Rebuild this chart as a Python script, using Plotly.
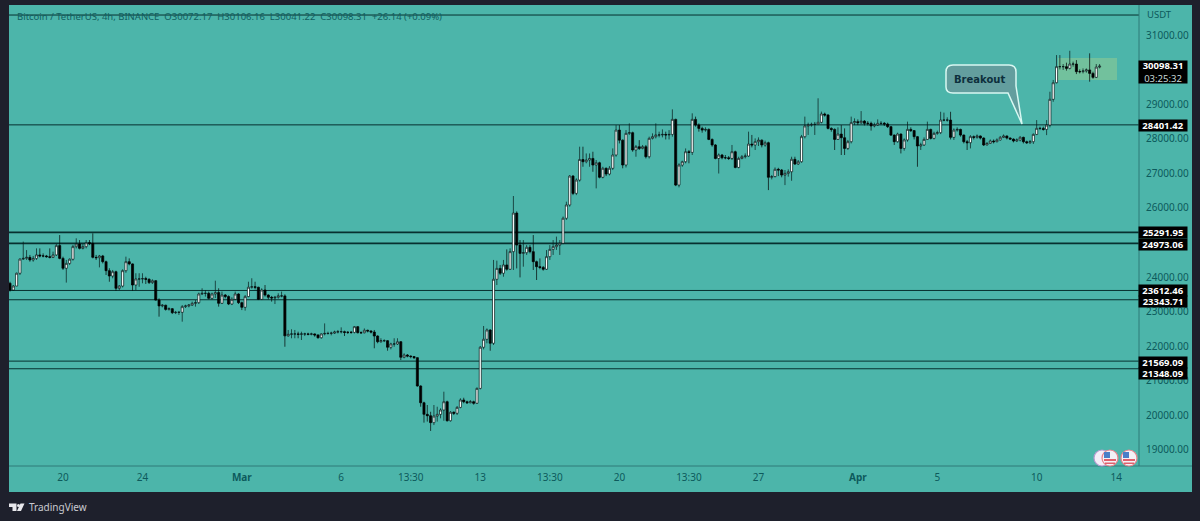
import pandas as pd
import plotly.graph_objects as go

first_open = 23820
closes = [
23625,23740,24110,24520,24540,24570,24495,24540,24640,24610,
24610,24590,24570,24640,24910,24540,24255,24395,24515,24880,
24955,24830,24880,24995,24975,24570,24560,24610,24445,24185,
24030,24155,23675,23740,24185,24445,24380,23770,23945,23945,
23955,23935,23840,23895,23335,23165,23185,23065,23085,22970,
22980,22980,23145,23165,23190,23240,23260,23510,23530,23530,
23385,23510,23550,23240,23480,23435,23220,23355,23510,23260,
23125,23435,23705,23720,23705,23355,23625,23480,23415,23395,
23415,23455,23455,22300,22345,22355,22355,22345,22355,22355,
22345,22355,22325,22245,22355,22370,22370,22380,22410,22420,
22420,22400,22400,22400,22565,22390,22390,22460,22440,22410,
22295,22130,22160,22160,21970,22065,22065,22130,21680,21745,
21715,21700,21670,20850,20365,20030,19990,19790,19980,20030,
20155,20395,19845,20090,20060,20230,20445,20395,20365,20395,
20350,20780,21970,22200,22470,22085,23935,24250,24110,24350,
24225,24735,25850,24925,24685,24705,24860,24735,24445,24300,
24280,24225,24590,24800,24880,24925,24975,25700,26085,26920,
26420,26805,27400,27335,27385,27430,27240,27305,26885,27145,
26980,27145,27530,28250,27960,27240,28155,28175,27675,27770,
27720,27770,27480,28010,28060,28110,28110,28125,28110,28125,
28560,26660,27240,27335,27625,27605,28560,28395,28300,28250,
28270,27980,27820,27430,27530,27450,27450,27430,27625,27170,
27430,27480,27500,27845,27820,27915,27960,27820,27885,26885,
26905,27115,27095,26950,27000,27045,27405,27270,27335,28060,
28370,28395,28415,28415,28475,28715,28685,28300,28270,27980,
28135,28030,27720,27915,28465,28495,28465,28510,28445,28445,
28370,28395,28445,28445,28425,28350,28105,27915,28135,27720,
27965,28270,28235,28060,27790,27820,27980,28270,28010,28155,
28175,28540,28540,28540,28040,28250,28270,28105,27915,27885,
28060,28040,28080,28020,27820,27865,27935,27915,27965,28040,
28080,28020,27990,27935,27965,28040,27915,27885,27915,28125,
28300,28300,28270,28395,29140,29620,30085,30085,30085,30035,
30160,30160,29940,29940,29960,29990,29890,29775,30072,30098,
]
highs = [
23865,23770,24130,24540,25025,24780,24640,24610,24830,24830,
24685,24640,24830,24735,24955,25215,24590,24495,24540,24930,
25120,25070,24955,25070,25070,25265,24640,24640,24640,24475,
24255,24205,24185,23770,24225,24590,24540,24395,24110,24110,
24110,24010,23965,23935,23915,23385,23220,23200,23125,23105,
23020,23020,23190,23200,23220,23290,23335,23550,23675,23625,
23580,23550,23895,23675,23580,23510,23470,23415,23580,23530,
23290,23480,23865,23965,23865,23720,23675,23770,23500,23455,
23455,23530,23580,23500,22470,22490,22470,22420,22420,22390,
22390,22390,22370,22345,22370,22660,22420,22420,22450,22470,
22545,22450,22440,22440,22585,22585,22430,22515,22480,22460,
22470,22315,22230,22200,22180,22100,22230,22230,22150,21795,
21775,21735,21715,21680,20870,20395,20300,20105,20300,20250,
20205,20685,20425,20125,20115,20270,20495,20510,20425,20445,
20425,20810,22005,22585,22515,22490,24495,24475,24350,24495,
24800,24830,26344,25900,25070,25070,24925,24925,25215,24475,
24540,24320,24780,24925,25070,25170,25070,25750,26180,26950,
26950,26855,27770,27770,27575,27575,27625,27385,27335,27190,
27170,27210,27720,28395,28395,27980,28250,28445,28205,27820,
27960,27820,27820,28060,28155,28445,28205,28270,28205,28250,
28850,28580,27290,27365,27720,27675,28735,28640,28445,28350,
28330,28300,28010,27845,27575,27560,27530,27500,27820,27655,
27480,27530,27575,28205,28110,28010,28040,27980,27945,27915,
26950,27170,27160,27125,27095,27115,27480,27480,27385,28110,
28640,28465,28465,28485,29170,28785,28755,28715,28330,28300,
28330,28395,28300,27965,28640,28590,28560,28800,28540,28510,
28495,28465,28560,28510,28485,28465,28370,28125,28175,28155,
28010,28495,28330,28250,28080,27885,28040,28495,28290,28205,
28235,28780,28755,28620,28780,28300,28330,28290,28125,27965,
28105,28095,28125,28095,28040,27905,27980,27980,28010,28080,
28125,28095,28040,28010,28010,28080,28060,27945,27965,28155,
28540,28350,28350,28540,29360,29700,30420,30420,30160,30200,
30545,30230,30275,30005,30035,30035,30470,29940,30160,30160,
]
lows = [
23580,23600,23740,24060,24495,24495,24445,24445,24495,24570,
24570,24560,24540,24550,24610,24515,24205,23840,24350,24475,
24830,24800,24800,24830,24925,24540,24495,24280,24395,24060,
23865,23965,23605,23625,23700,24125,24340,23605,23625,23720,
23820,23800,23800,23800,23320,22855,23125,23030,23030,22930,
22930,22905,22710,23105,23125,23165,23145,23220,23480,23435,
23355,23355,23395,23145,23220,23385,23190,23190,23335,23220,
23045,23030,23415,23665,23645,23335,23335,23435,23355,23290,
23220,23375,23415,21985,22275,22230,22230,22230,22180,22295,
22315,22315,22275,22220,22220,22315,22335,22315,22355,22370,
22370,22295,22355,22360,22370,22370,22355,22370,22400,22370,
21940,22085,22100,22120,21870,21910,21985,22035,21600,21650,
21680,21650,21630,20830,20250,19790,19820,19550,19720,19820,
19915,19845,19820,19820,20010,20010,20205,20350,20330,20350,
20310,20330,20750,21910,22085,21870,22035,23770,24060,24010,
24185,24205,24205,24250,23990,24300,24640,24685,24205,23915,
24225,24185,24205,24495,24640,24785,24640,24950,25650,26035,
26370,26370,26760,27190,27290,27190,27045,26565,26855,26855,
26920,26940,27095,27480,27865,27145,27170,28110,27625,27480,
27675,27695,27430,27430,27980,28010,28040,28040,27980,27980,
28060,26630,26595,27190,27290,27290,27530,28350,28205,28175,
28205,27960,27770,27405,26995,27405,27405,27385,27385,27145,
27145,27405,27430,27480,27750,27675,27790,27750,27770,26515,
26825,26885,26920,26885,26660,26905,26785,27240,27240,27305,
28010,28110,28350,28110,28395,28445,28640,28270,28205,27675,
27965,27530,27530,27675,27865,28395,28395,28425,28385,28385,
28235,28330,28370,28395,28370,28310,28080,27820,27885,27575,
27655,27915,28195,27980,27190,27675,27790,27965,27980,27980,
28115,28135,28505,28495,27980,27965,28205,28060,27865,27675,
27720,27980,28000,27980,27790,27810,27850,27865,27895,27945,
28020,27980,27965,27895,27905,27925,27865,27850,27850,27850,
28105,28250,28235,28105,28330,29070,29600,30005,29990,29970,
30005,30085,29870,29890,29890,29910,29650,29735,29755,30035,
]
opens = [first_open] + closes[:-1]
dates = pd.date_range("2023-02-17 09:30", periods=len(closes), freq="4h")

level_prices = [28401.42, 25291.95, 24973.06, 23612.46, 23343.71, 21569.09, 21348.09]
level_widths = [1, 1.6, 1.6, 1, 1, 1, 1]
level_labels = ["28401.42", "25291.95", "24973.06", "23612.46", "23343.71", "21569.09", "21348.09"]
top_line_price = 31578
last_price_label = "30098.31"
countdown_label = "03:25:32"
price_ticks = [19000, 20000, 21000, 22000, 23000, 24000, 26000, 27000, 28000, 29000, 31000]
time_ticks = ["2023-02-20 01:30", "2023-02-24 01:30", "2023-03-01 01:30", "2023-03-06 01:30",
              "2023-03-09 13:30", "2023-03-13 01:30", "2023-03-16 13:30", "2023-03-20 01:30",
              "2023-03-23 13:30", "2023-03-27 01:30", "2023-04-01 01:30", "2023-04-05 01:30",
              "2023-04-10 01:30", "2023-04-14 01:30"]
time_labels = ["20", "24", "<b>Mar</b>", "6", "13:30", "13", "13:30", "20", "13:30", "27",
               "<b>Apr</b>", "5", "10", "14"]
legend_text = "Bitcoin / TetherUS, 4h, BINANCE  O30072.17  H30106.16  L30041.22  C30098.31  +26.14 (+0.09%)"

W, H = 1200, 521
L, R, T, B = 9, 1139, 5, 466
TEAL = "#4cb5aa"
DARK = "#1e202c"
INK = "#0d5a5c"
LINE = "#07302f"
label_rows = [125.5, 232.5, 244, 290.5, 301.5, 362, 373]

def px(x):
    return (x - L) / (R - L)

def py(y):
    return (B - y) / (B - T)

fig = go.Figure(go.Candlestick(
    x=dates, open=opens, high=highs, low=lows, close=closes,
    increasing=dict(line=dict(color="#061a1a", width=0.7), fillcolor="#ffffff"),
    decreasing=dict(line=dict(color="#000000", width=0.7), fillcolor="#000000"),
    whiskerwidth=0, showlegend=False, hoverinfo="skip",
))

def pshape(**kw):
    fig.add_shape(xref="paper", yref="paper", **kw)

# teal panel extensions (price scale and time scale)
pshape(type="rect", x0=1, x1=px(1192), y0=py(B), y1=py(T), fillcolor=TEAL, line_width=0, layer="below")
pshape(type="rect", x0=0, x1=px(1192), y0=py(492), y1=py(B), fillcolor=TEAL, line_width=0, layer="below")
# highlight box behind the latest candles
pshape(type="rect", x0=px(1058), x1=px(1117), y0=py(80), y1=py(58), fillcolor="rgba(135,200,150,0.65)",
       line_width=0, layer="below")

for p, w in zip(level_prices + [top_line_price], level_widths + [1]):
    fig.add_shape(type="line", xref="paper", yref="y", x0=0, x1=1, y0=p, y1=p,
                  line=dict(color=LINE, width=w), layer="below")

# frame lines
pshape(type="line", x0=1, x1=1, y0=py(B), y1=py(T), line=dict(color="#2e7a78", width=1))
pshape(type="line", x0=0, x1=px(1192), y0=py(B), y1=py(B), line=dict(color="#2e7a78", width=1))

# Breakout callout
def pt(x, y):
    return f"{px(x):.5f},{py(y):.5f}"

callout = ("M" + pt(953, 65) + " L" + pt(1009, 65) + " Q" + pt(1016, 65) + " " + pt(1016, 72) +
           " L" + pt(1016, 86) + " L" + pt(1022, 124) + " L" + pt(1008, 93) + " L" + pt(953, 93) +
           " Q" + pt(946, 93) + " " + pt(946, 87) + " L" + pt(946, 72) + " Q" + pt(946, 65) + " " + pt(953, 65) + " Z")
pshape(type="path", path=callout, fillcolor="#639e9e", line=dict(color="#d8f8f2", width=1.5))

# economic-event flags
def flag(cx, cy):
    pshape(type="circle", x0=px(cx - 8), x1=px(cx + 8), y0=py(cy + 8), y1=py(cy - 8),
           fillcolor="#f2f2f6", line=dict(color="#e8828c", width=1.2))
    pshape(type="rect", x0=px(cx - 6), x1=px(cx + 6), y0=py(cy + 3), y1=py(cy + 1), fillcolor="#e0606c", line_width=0)
    pshape(type="rect", x0=px(cx - 5), x1=px(cx + 5), y0=py(cy + 6), y1=py(cy + 4.5), fillcolor="#e0606c", line_width=0)
    pshape(type="rect", x0=px(cx - 6), x1=px(cx), y0=py(cy), y1=py(cy - 6), fillcolor="#4a7fc8", line_width=0)

pshape(type="circle", x0=px(1094), x1=px(1110), y0=py(466), y1=py(450),
       fillcolor="#f4eef8", line=dict(color="#b59ad0", width=1.2))
flag(1110, 458)
flag(1129, 458)

# TradingView logo
pshape(type="path", path="M" + pt(9, 503.5) + " L" + pt(16.5, 503.5) + " L" + pt(16.5, 511) + " L" + pt(12.5, 511) +
       " L" + pt(12.5, 507) + " L" + pt(9, 507) + " Z", fillcolor="#e8e8ec", line_width=0)
pshape(type="circle", x0=px(17), x1=px(20), y0=py(507), y1=py(504), fillcolor="#e8e8ec", line_width=0)
pshape(type="path", path="M" + pt(20.5, 503.5) + " L" + pt(24.5, 503.5) + " L" + pt(21, 511) + " L" + pt(17, 511) + " Z",
       fillcolor="#e8e8ec", line_width=0)

anns = [
    dict(xref="paper", yref="paper", x=px(15), y=py(17), text=legend_text, showarrow=False, xanchor="left",
         yanchor="middle", font=dict(family="Noto Sans", size=9.5, color="#115e60")),
    dict(xref="paper", yref="paper", x=px(1145), y=py(15), text="USDT", showarrow=False, xanchor="left",
         yanchor="middle", font=dict(family="Noto Sans", size=9.5, color=INK)),
    dict(xref="paper", yref="paper", x=px(979), y=py(79), text="<b>Breakout</b>", showarrow=False, xanchor="center",
         yanchor="middle", font=dict(family="DejaVu Sans", size=10, color="#0d2f3c")),
    dict(xref="paper", yref="paper", x=px(27), y=py(507), text="TradingView", showarrow=False, xanchor="left",
         yanchor="middle", font=dict(family="Noto Sans", size=10, color="#c9cad0")),
    dict(xref="paper", yref="paper", x=px(1163), y=py(72), text=f"<b>{last_price_label}</b><br><span style='color:#c8d8d8'>{countdown_label}</span>",
         showarrow=False, xanchor="center", yanchor="middle", width=48, height=22, bgcolor="#000000", borderpad=0,
         font=dict(family="Noto Sans", size=9.5, color="#ffffff")),
]
for row, lab in zip(label_rows, level_labels):
    anns.append(dict(xref="paper", yref="paper", x=px(1163), y=py(row), text=f"<b>{lab}</b>", showarrow=False,
                     xanchor="center", yanchor="middle", width=48, height=11, bgcolor="#000000", borderpad=0,
                     font=dict(family="Noto Sans", size=9.5, color="#ffffff")))

fig.update_layout(
    width=W, height=H, autosize=False,
    margin=dict(l=L, r=W - R, t=T, b=H - B),
    paper_bgcolor=DARK, plot_bgcolor=TEAL, boxgap=0.1,
    annotations=anns, hovermode=False,
    xaxis=dict(type="date", range=["2023-02-17 08:17", "2023-04-15 05:06"], rangeslider=dict(visible=False),
               tickmode="array", tickvals=time_ticks, ticktext=time_labels, showgrid=False, zeroline=False,
               ticks="", ticklabelstandoff=4, tickfont=dict(family="Noto Sans", size=10, color=INK)),
    yaxis=dict(side="right", range=[18536, 31868], tickmode="array", tickvals=price_ticks,
               ticktext=[f"{v:.2f}" for v in price_ticks], showgrid=False, zeroline=False, ticks="",
               ticklabelstandoff=6, tickfont=dict(family="Noto Sans", size=10, color=INK)),
)
fig.write_html("out.html", config=dict(displayModeBar=False),
               post_script="document.body.style.margin='0';document.body.style.overflow='hidden';")
